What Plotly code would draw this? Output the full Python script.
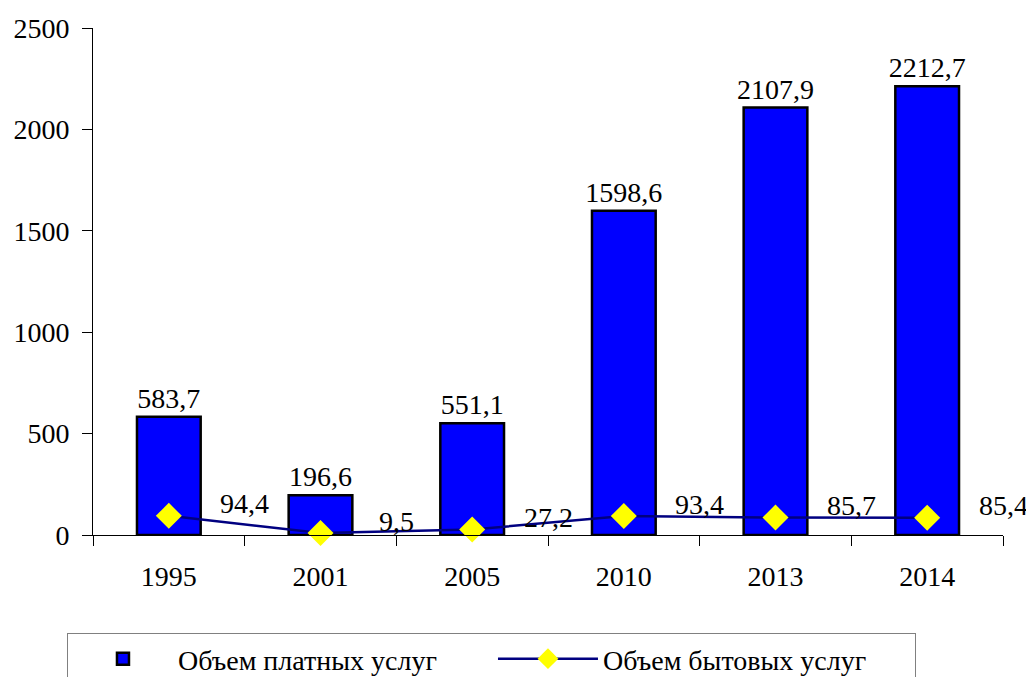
import plotly.graph_objects as go

years = ["1995", "2001", "2005", "2010", "2013", "2014"]
paid_services = [583.7, 196.6, 551.1, 1598.6, 2107.9, 2212.7]
household_services = [94.4, 9.5, 27.2, 93.4, 85.7, 85.4]
y_ticks = [0, 500, 1000, 1500, 2000, 2500]

FONT = "Liberation Serif"
FS = 28

def fmt(v):
    return f"{v:.1f}".replace(".", ",")

xs = list(range(len(years)))
bounds = [i - 0.5 for i in range(len(years) + 1)]

fig = go.Figure()
fig.add_trace(go.Bar(
    x=xs, y=paid_services, name="Объем платных услуг",
    width=0.42, legendwidth=310,
    marker=dict(color="#0000FF", line=dict(color="black", width=2.5)),
    text=[fmt(v) for v in paid_services], textposition="outside",
    constraintext="none",
    textfont=dict(family=FONT, size=FS, color="black"),
    cliponaxis=False,
))
fig.add_trace(go.Scatter(
    x=xs, y=household_services, name="Объем бытовых услуг",
    mode="lines+markers", legendwidth=307,
    line=dict(color="#000080", width=2.5),
    marker=dict(symbol="diamond", size=20, color="#FFFF00", line=dict(width=0)),
    cliponaxis=False,
))

for i, v in enumerate(household_services):
    fig.add_annotation(x=i + 0.5, y=v, xref="x", yref="y", text=fmt(v),
                       showarrow=False, yshift=12,
                       font=dict(family=FONT, size=FS, color="black"))

fig.update_layout(
    width=1026, height=669,
    paper_bgcolor="white", plot_bgcolor="white",
    font=dict(family=FONT, size=FS, color="black"),
    margin=dict(l=85, r=31, t=20, b=142, autoexpand=False),
    showlegend=True,
    legend=dict(orientation="h", x=-0.0286, y=-0.1933, xanchor="left", yanchor="top",
                bgcolor="white", bordercolor="#808080", borderwidth=1,
                font=dict(family=FONT, size=FS, color="black"),
                itemwidth=100),
    xaxis=dict(range=[-0.5, len(years) - 0.5], tickmode="array", tickvals=xs, ticktext=years,
               ticks="", showline=True, linecolor="black", linewidth=1,
               showgrid=False, zeroline=False, ticklabelstandoff=16,
               minor=dict(tickmode="array", tickvals=bounds, ticks="outside", ticklen=10,
                          tickcolor="black", tickwidth=1, showgrid=False)),
    xaxis2=dict(overlaying="x", anchor="y", side="bottom", range=[-0.5, len(years) - 0.5],
                tickmode="array", tickvals=bounds, ticks="inside", ticklen=9,
                tickcolor="black", showticklabels=False, showgrid=False,
                zeroline=False, showline=False),
    yaxis=dict(range=[0, 2500], tickmode="array", tickvals=y_ticks,
               ticktext=[str(t) for t in y_ticks],
               ticks="outside", ticklen=10, tickcolor="black", tickwidth=1,
               showline=True, linecolor="black", linewidth=1,
               showgrid=False, zeroline=False, ticklabelstandoff=7),
    yaxis2=dict(overlaying="y", anchor="x", side="left", range=[0, 2500],
                tickmode="array", tickvals=y_ticks, ticks="inside", ticklen=10,
                tickcolor="black", showticklabels=False, showgrid=False,
                zeroline=False, showline=False),
)

fig.write_html("out.html")
